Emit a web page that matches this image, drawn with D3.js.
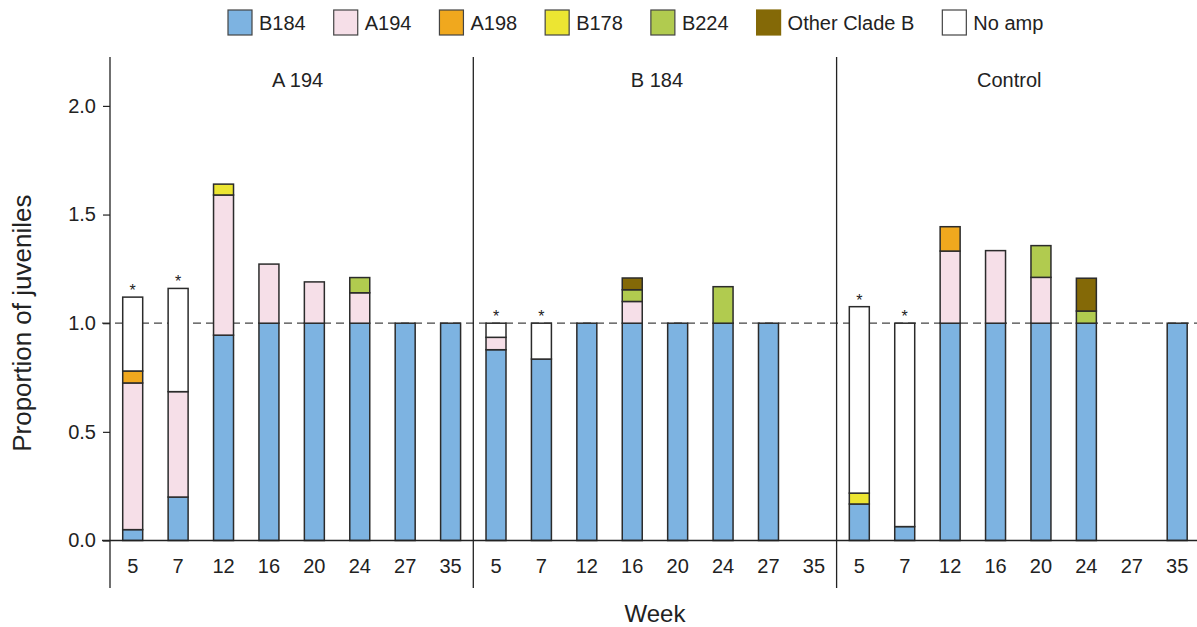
<!DOCTYPE html>
<html>
<head>
<meta charset="utf-8">
<script src="https://cdn.jsdelivr.net/npm/d3@7"></script>
<style>
  body { margin: 0; background: #fff; }
  svg { display: block; font-family: "Liberation Sans", Arial, Helvetica, sans-serif; }
</style>
</head>
<body>
<svg id="chart" width="1197" height="627"></svg>
<script>
// ---- data ----
const panels = ["A 194", "B 184", "Control"];
const weeks = ["5", "7", "12", "16", "20", "24", "27", "35"];
const clades = ["B184", "A194", "A198", "B178", "B224", "Other Clade B", "No amp"];
const yTicks = [0, 0.5, 1, 1.5, 2];
const starredWeeks = ["5", "7"];

// Proportion of juveniles by symbiont clade, listed panel by panel
// (A 194, B 184, Control), eight sampling weeks each.
const b184   = [0.05, 0.20, 0.945, 1, 1, 1, 1, 1,
                0.878, 0.835, 1, 1, 1, 1, 1, 0,
                0.168, 0.064, 1, 1, 1, 1, 0, 1];
const a194   = [0.675, 0.485, 0.645, 0.272, 0.19, 0.14, 0, 0,
                0.057, 0, 0, 0.10, 0, 0, 0, 0,
                0, 0, 0.332, 0.334, 0.211, 0, 0, 0];
const a198   = [0.055, 0, 0, 0, 0, 0, 0, 0,
                0, 0, 0, 0, 0, 0, 0, 0,
                0, 0, 0.112, 0, 0, 0, 0, 0];
const b178   = [0, 0, 0.05, 0, 0, 0, 0, 0,
                0, 0, 0, 0, 0, 0, 0, 0,
                0.05, 0, 0, 0, 0, 0, 0, 0];
const b224   = [0, 0, 0, 0, 0, 0.07, 0, 0,
                0, 0, 0, 0.054, 0, 0.168, 0, 0,
                0, 0, 0, 0, 0.146, 0.056, 0, 0];
const otherB = [0, 0, 0, 0, 0, 0, 0, 0,
                0, 0, 0, 0.054, 0, 0, 0, 0,
                0, 0, 0, 0, 0, 0.151, 0, 0];
const noAmp  = [0.34, 0.475, 0, 0, 0, 0, 0, 0,
                0.065, 0.165, 0, 0, 0, 0, 0, 0,
                0.858, 0.936, 0, 0, 0, 0, 0, 0];

const cladeValues = [b184, a194, a198, b178, b224, otherB, noAmp];
const cladeColors = ["#7db3e1", "#f6dfe8", "#f0a81e", "#ece532", "#b1cb4f", "#846907", "#ffffff"];

// ---- layout ----
const svg = d3.select("#chart");
const plotLeft = 110, panelW = 363.3;
const axisTop = 57, axisBottom = 588;
const ink = "#222";

const y = d3.scaleLinear().domain([0, 2.225]).range([540.5, axisTop]);
const panelX = d3.scaleBand().domain(panels).range([plotLeft, plotLeft + panelW * 3]);
const weekX = d3.scaleBand().domain(weeks).range([0, panelW]).paddingInner(0.56).paddingOuter(0.28);
const color = d3.scaleOrdinal().domain(clades).range(cladeColors);

// rows for stacking
const rows = [];
panels.forEach((p, pi) => {
  weeks.forEach((w, wi) => {
    const row = { panel: p, week: w };
    clades.forEach((c, ci) => { row[c] = cladeValues[ci][pi * weeks.length + wi]; });
    rows.push(row);
  });
});
const stacked = d3.stack().keys(clades)(rows);

// reference line at 1.0 (drawn beneath the bars)
svg.append("line")
  .attr("x1", 102).attr("x2", 1197)
  .attr("y1", y(1)).attr("y2", y(1))
  .attr("stroke", "#444").attr("stroke-width", 1.3)
  .attr("stroke-dasharray", "8,5");

// stacked bars
const bars = svg.append("g");
stacked.forEach(series => {
  bars.selectAll(null)
    .data(series.filter(d => d[1] - d[0] > 1e-9))
    .join("rect")
    .attr("x", d => panelX(d.data.panel) + weekX(d.data.week))
    .attr("width", weekX.bandwidth())
    .attr("y", d => y(d[1]))
    .attr("height", d => y(d[0]) - y(d[1]))
    .attr("fill", color(series.key))
    .attr("stroke", "#2b2b2b")
    .attr("stroke-width", 1.5);
});

// asterisks above the early-week bars
const totals = rows.map(r => ({ ...r, total: d3.sum(clades, c => r[c]) }));
svg.append("g").selectAll("text")
  .data(totals.filter(r => starredWeeks.includes(r.week) && r.total > 0))
  .join("text")
  .attr("x", d => panelX(d.panel) + weekX(d.week) + weekX.bandwidth() / 2)
  .attr("y", d => y(d.total) - 1)
  .attr("text-anchor", "middle")
  .attr("font-size", 16)
  .attr("fill", ink)
  .text("*");

// y axis
const yAxis = svg.append("g")
  .attr("transform", `translate(${plotLeft},0)`)
  .call(d3.axisLeft(y).tickValues(yTicks).tickFormat(d3.format(".1f")).tickSize(7).tickPadding(7));
yAxis.select(".domain").remove();
yAxis.selectAll(".tick line").attr("stroke", ink).attr("stroke-width", 1.2);
yAxis.selectAll(".tick text").attr("font-size", 20).attr("fill", ink)
  .attr("font-family", "Liberation Sans, Arial, Helvetica, sans-serif");

// x axis baseline
svg.append("line")
  .attr("x1", 102).attr("x2", 1197)
  .attr("y1", y(0)).attr("y2", y(0))
  .attr("stroke", ink).attr("stroke-width", 1.3);

// vertical axis and panel dividers
svg.append("g").selectAll("line")
  .data(panels)
  .join("line")
  .attr("x1", d => panelX(d)).attr("x2", d => panelX(d))
  .attr("y1", axisTop).attr("y2", axisBottom)
  .attr("stroke", ink).attr("stroke-width", 1.3);

// week labels in each panel
panels.forEach(p => {
  const g = svg.append("g")
    .attr("transform", `translate(${panelX(p)},${y(0)})`)
    .call(d3.axisBottom(weekX).tickSize(0).tickPadding(18));
  g.select(".domain").remove();
  g.selectAll(".tick text").attr("font-size", 20).attr("fill", ink)
    .attr("font-family", "Liberation Sans, Arial, Helvetica, sans-serif");
});

// panel titles
const titleShift = [6, 2, -9];
svg.append("g").selectAll("text")
  .data(panels)
  .join("text")
  .attr("x", (d, i) => panelX(d) + panelX.bandwidth() / 2 + titleShift[i])
  .attr("y", 87)
  .attr("text-anchor", "middle")
  .attr("font-size", 20)
  .attr("fill", ink)
  .text(d => d);

// axis titles
svg.append("text")
  .attr("x", plotLeft + panelW * 1.5).attr("y", 622)
  .attr("text-anchor", "middle")
  .attr("font-size", 24).attr("fill", ink)
  .text("Week");

svg.append("text")
  .attr("transform", `translate(31,${y(1)}) rotate(-90)`)
  .attr("text-anchor", "middle")
  .attr("font-size", 26).attr("fill", ink)
  .text("Proportion of juveniles");

// legend
const legend = svg.append("g");
let lx = 228;
clades.forEach((c, i) => {
  const item = legend.append("g").attr("transform", `translate(${lx},10)`);
  item.append("rect")
    .attr("width", 24).attr("height", 25)
    .attr("fill", color(c))
    .attr("stroke", c === "Other Clade B" ? color(c) : "#444")
    .attr("stroke-width", 1.2);
  const t = item.append("text")
    .attr("x", 31).attr("y", 20)
    .attr("font-size", 20).attr("fill", ink)
    .text(c);
  lx += 31 + t.node().getComputedTextLength() + 28;
});
</script>
</body>
</html>
